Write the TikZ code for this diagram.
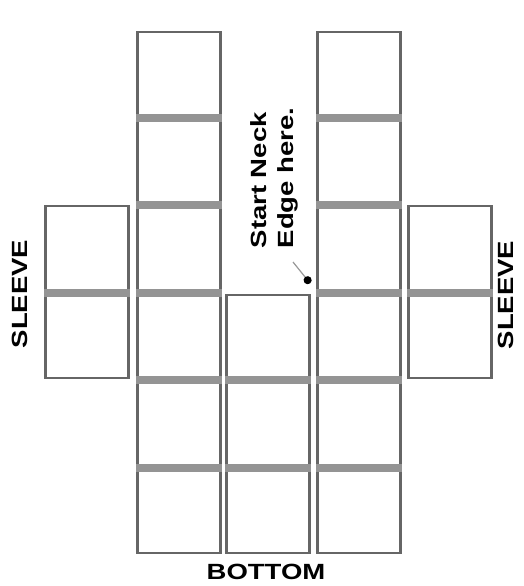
\documentclass[tikz,border=0pt]{standalone}
\usepackage{fontspec}
\newfontfamily\tagfont[FakeStretch=1.25]{Liberation Sans}
\usetikzlibrary{arrows.meta}
\begin{document}
\begin{tikzpicture}[x=1pt,y=-1pt,every node/.style={font=\tagfont\bfseries\fontsize{22}{27}\selectfont},
  square/.style={draw=black!60,line width=2.2pt,minimum width=83pt,minimum height=84pt,inner sep=0pt},
  seam/.style={draw=black!42,line width=8pt},
  pointer/.style={draw=black!40,line width=1.2pt,-{Circle[length=8pt,color=black]}}]
  \useasboundingbox[fill=white] (0,0) rectangle (523,586);
  \node[square] (slA) at (87,248) {}; \node[square] (slB) at (87,336) {};
  \node[square] (l1) at (179,74) {}; \node[square] (l2) at (179,161) {}; \node[square] (l3) at (179,248) {};
  \node[square] (l4) at (179,336) {}; \node[square] (l5) at (179,423) {}; \node[square] (l6) at (179,511) {};
  \node[square] (m4) at (268,337) {}; \node[square] (m5) at (268,423) {}; \node[square] (m6) at (268,511) {};
  \node[square] (r1) at (359,74) {}; \node[square] (r2) at (359,161) {}; \node[square] (r3) at (359,248) {};
  \node[square] (r4) at (359,336) {}; \node[square] (r5) at (359,423) {}; \node[square] (r6) at (359,511) {};
  \node[square] (srA) at (450,248) {}; \node[square] (srB) at (450,336) {};
  \draw[seam] (l2.north west) -- (l2.north east); \draw[seam] (l3.north west) -- (l3.north east); \draw[seam] (l4.north west) -- (l4.north east);
  \draw[seam] (l5.north west) -- (l5.north east); \draw[seam] (l6.north west) -- (l6.north east);
  \draw[seam] (r2.north west) -- (r2.north east); \draw[seam] (r3.north west) -- (r3.north east); \draw[seam] (r4.north west) -- (r4.north east);
  \draw[seam] (r5.north west) -- (r5.north east); \draw[seam] (r6.north west) -- (r6.north east);
  \draw[seam] (m5.north west) -- (m5.north east); \draw[seam] (m6.north west) -- (m6.north east);
  \draw[seam] (slB.north west) -- (slB.north east); \draw[seam] (srB.north west) -- (srB.north east);
  \node[rotate=90] (sleeveL) at (20,294) {SLEEVE};
  \node[rotate=90] (sleeveR) at (506,295) {SLEEVE};
  \node (bottom) at (266,572) {BOTTOM};
  \node[rotate=90,align=left,inner sep=0pt] (neck) at (274,178) {Start Neck\\Edge here.};
  \coordinate (neckfrom) at (293,262);
  \draw[pointer,shorten >=10pt] (neckfrom) -- (r3.south west);
\end{tikzpicture}
\end{document}
